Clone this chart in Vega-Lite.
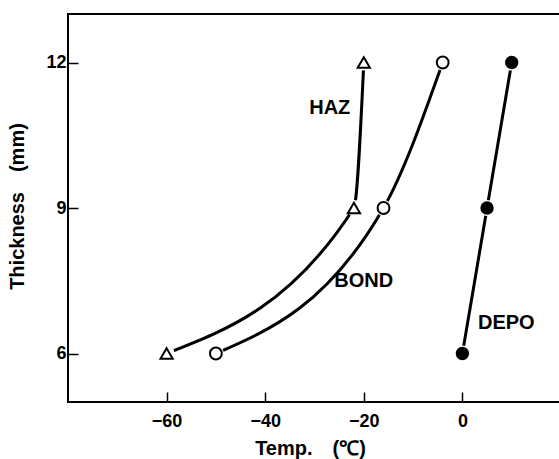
{
  "$schema": "https://vega.github.io/schema/vega-lite/v6.json",
  "autosize": "none",
  "width": 493,
  "height": 388,
  "padding": {"left": 68, "top": 14, "right": 0, "bottom": 57},
  "background": "white",
  "config": {
    "view": {"stroke": "black", "strokeWidth": 2},
    "axis": {
      "grid": false,
      "domain": false,
      "tickColor": "black",
      "tickWidth": 1.5,
      "tickSize": -10,
      "labelFont": "Liberation Sans",
      "labelFontSize": 18,
      "labelFontWeight": "bold",
      "labelColor": "black",
      "titleFont": "Liberation Sans",
      "titleFontSize": 20,
      "titleFontWeight": "bold",
      "titleColor": "black"
    }
  },
  "datasets": {
    "curves": [
      {"series": "HAZ", "temp": -60, "thick": 6},
      {"series": "HAZ", "temp": -22, "thick": 9},
      {"series": "HAZ", "temp": -20, "thick": 12},
      {"series": "BOND", "temp": -50, "thick": 6},
      {"series": "BOND", "temp": -16, "thick": 9},
      {"series": "BOND", "temp": -4, "thick": 12},
      {"series": "DEPO", "temp": 0, "thick": 6},
      {"series": "DEPO", "temp": 5, "thick": 9},
      {"series": "DEPO", "temp": 10, "thick": 12}
    ],
    "labels": [
      {"label": "HAZ", "temp": -26.9, "thick": 11.07},
      {"label": "BOND", "temp": -20, "thick": 7.49},
      {"label": "DEPO", "temp": 8.9, "thick": 6.63}
    ]
  },
  "layer": [
    {
      "data": {"name": "curves"},
      "mark": {"type": "line", "interpolate": "monotone", "color": "black", "strokeWidth": 3},
      "encoding": {
        "x": {"field": "temp", "type": "quantitative", "scale": {"domain": [-80, 20], "nice": false, "zero": false},
              "axis": {"values": [-60, -40, -20, 0], "labelPadding": 20, "title": "Temp.\u2003(℃)", "titleX": 242, "titleY": 46, "titleBaseline": "middle"}},
        "y": {"field": "thick", "type": "quantitative", "scale": {"domain": [5, 13], "nice": false, "zero": false},
              "axis": {"values": [6, 9, 12], "labelPadding": 12, "title": "Thickness\u2003(mm)", "titleX": -51, "titleY": 192, "titleAngle": -90, "titleBaseline": "middle", "titleAlign": "center"}},
        "detail": {"field": "series"},
        "order": {"field": "thick"}
      }
    },
    {
      "data": {"name": "curves"},
      "mark": {"type": "point", "shape": "circle", "filled": true, "color": "white", "opacity": 1, "size": 260},
      "encoding": {
        "x": {"field": "temp", "type": "quantitative"},
        "y": {"field": "thick", "type": "quantitative"}
      }
    },
    {
      "data": {"name": "curves"},
      "mark": {"type": "point", "stroke": "black", "strokeWidth": 2, "opacity": 1},
      "encoding": {
        "x": {"field": "temp", "type": "quantitative"},
        "y": {"field": "thick", "type": "quantitative"},
        "shape": {"field": "series", "type": "nominal", "scale": {"domain": ["HAZ", "BOND", "DEPO"], "range": ["triangle-up", "circle", "circle"]}, "legend": null},
        "fill": {"field": "series", "type": "nominal", "scale": {"domain": ["HAZ", "BOND", "DEPO"], "range": ["white", "white", "black"]}, "legend": null},
        "size": {"field": "series", "type": "nominal", "scale": {"domain": ["HAZ", "BOND", "DEPO"], "range": [150, 130, 150]}, "legend": null}
      }
    },
    {
      "data": {"name": "labels"},
      "mark": {"type": "text", "font": "Liberation Sans", "fontSize": 20, "fontWeight": "bold", "color": "black", "align": "center", "baseline": "middle"},
      "encoding": {
        "x": {"field": "temp", "type": "quantitative"},
        "y": {"field": "thick", "type": "quantitative"},
        "text": {"field": "label"}
      }
    }
  ]
}
